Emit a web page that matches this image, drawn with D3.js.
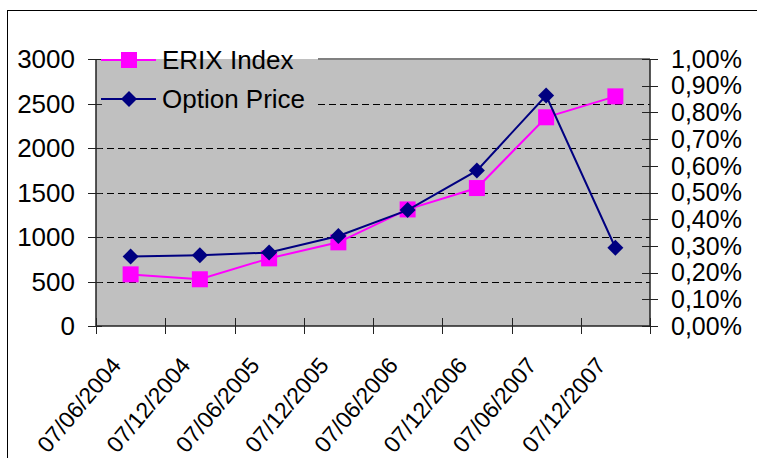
<!DOCTYPE html>
<html><head><meta charset="utf-8">
<script src="https://cdn.jsdelivr.net/npm/d3@7"></script>
<style>body{margin:0;background:#fff}svg{display:block;font-family:"Liberation Sans",Arial,sans-serif}</style>
</head><body><svg id="c" width="757" height="458"></svg>
<script>
const categories = ["07/06/2004","07/12/2004","07/06/2005","07/12/2005","07/06/2006","07/12/2006","07/06/2007","07/12/2007"];
const erixIndex = [580, 525, 760, 940, 1310, 1550, 2345, 2580];
const optionPrice = [0.26, 0.265, 0.275, 0.337, 0.434, 0.582, 0.863, 0.293]; // percent
const leftTicks = [0, 500, 1000, 1500, 2000, 2500, 3000];
const rightTicks = [0,0.1,0.2,0.3,0.4,0.5,0.6,0.7,0.8,0.9,1.0];

const svg = d3.select("#c");
const L = 96, R = 650, T = 59, B = 326;
const FS = 26, FSR = 25, FSX = 23;

svg.append("rect").attr("x",7.5).attr("y",10.5).attr("width",900).attr("height",600)
  .attr("fill","#fff").attr("stroke","#000").attr("stroke-width",1);

const x = d3.scaleBand().domain(categories).range([L, R]);
const yL = d3.scaleLinear().domain([0,3000]).range([B, T]);
const yR = d3.scaleLinear().domain([0,1]).range([B, T]);

// plot area
svg.append("rect").attr("x",L).attr("y",T).attr("width",R-L).attr("height",B-T).attr("fill","#c0c0c0");

// gridlines
const legendRight = 318, legendBottom = 118;
svg.append("g").selectAll("line").data(leftTicks.filter(d=>d>0 && d<3000)).join("line")
  .attr("x1", d => yL(d) < legendBottom ? legendRight : L)
  .attr("x2", R)
  .attr("y1", d => Math.round(yL(d))+0.5).attr("y2", d => Math.round(yL(d))+0.5)
  .attr("stroke","#000").attr("stroke-width",1).attr("stroke-dasharray","7,4");
// top border
svg.append("line").attr("x1",legendRight).attr("x2",R).attr("y1",T).attr("y2",T)
  .attr("stroke","#808080").attr("stroke-width",2);

// left axis
const gL = svg.append("g");
gL.append("line").attr("x1",L).attr("x2",L).attr("y1",T).attr("y2",B).attr("stroke","#222").attr("stroke-width",1.5);
gL.selectAll("line.t").data(leftTicks).join("line").attr("class","t")
  .attr("x1",L-8).attr("x2",L+6).attr("y1",d=>Math.round(yL(d))+0.5).attr("y2",d=>Math.round(yL(d))+0.5)
  .attr("stroke","#222").attr("stroke-width",1);
gL.selectAll("text").data(leftTicks).join("text")
  .attr("x",75).attr("y",d=>yL(d)).attr("dy","0.35em").attr("text-anchor","end")
  .attr("font-size",FS).attr("fill","#000").text(d=>d);

// right axis
const gR = svg.append("g");
gR.append("line").attr("x1",R).attr("x2",R).attr("y1",T).attr("y2",B).attr("stroke","#222").attr("stroke-width",1.5);
gR.selectAll("line.t").data(rightTicks).join("line").attr("class","t")
  .attr("x1",R-8).attr("x2",R+8).attr("y1",d=>Math.round(yR(d))+0.5).attr("y2",d=>Math.round(yR(d))+0.5)
  .attr("stroke","#222").attr("stroke-width",1);
gR.selectAll("text").data(rightTicks).join("text")
  .attr("x",671).attr("y",d=>yR(d)).attr("dy","0.35em").attr("text-anchor","start")
  .attr("font-size",FSR).attr("fill","#000").text(d=>d.toFixed(2).replace(".",",")+"%");

// x axis
const gX = svg.append("g");
gX.append("line").attr("x1",L).attr("x2",R).attr("y1",B).attr("y2",B).attr("stroke","#222").attr("stroke-width",1.5);
const bounds = categories.map(c=>x(c)).concat([R]);
gX.selectAll("line.t").data(bounds).join("line").attr("class","t")
  .attr("x1",d=>Math.round(d)+0.5).attr("x2",d=>Math.round(d)+0.5).attr("y1",B-8).attr("y2",B+8)
  .attr("stroke","#222").attr("stroke-width",1);
gX.selectAll("text").data(categories).join("text")
  .attr("text-anchor","end").attr("font-size",FSX).attr("fill","#000")
  .attr("transform",d=>`translate(${x(d)+x.bandwidth()/2-8.5},${366}) rotate(-50)`)
  .text(d=>d);

const cx = d => x(d) + x.bandwidth()/2;

// ERIX series
const erixData = categories.map((c,i)=>({c,v:erixIndex[i]}));
svg.append("path").datum(erixData)
  .attr("d", d3.line().x(d=>cx(d.c)).y(d=>yL(d.v)))
  .attr("fill","none").attr("stroke","#ff00ff").attr("stroke-width",2);
svg.append("g").selectAll("rect").data(erixData).join("rect")
  .attr("x",d=>cx(d.c)-8).attr("y",d=>yL(d.v)-8).attr("width",16).attr("height",16).attr("fill","#ff00ff");

// Option series
const optData = categories.map((c,i)=>({c,v:optionPrice[i]}));
svg.append("path").datum(optData)
  .attr("d", d3.line().x(d=>cx(d.c)).y(d=>yR(d.v)))
  .attr("fill","none").attr("stroke","#000080").attr("stroke-width",2);
svg.append("g").selectAll("path").data(optData).join("path")
  .attr("d", "M0,-8L8,0L0,8L-8,0Z")
  .attr("transform",d=>`translate(${cx(d.c)},${yR(d.v)})`).attr("fill","#000080");

// legend
const lg = svg.append("g");
const items = [{name:"ERIX Index", color:"#ff00ff", y:60, sym:"sq"},{name:"Option Price", color:"#000080", y:99, sym:"di"}];
items.forEach(it=>{
  lg.append("line").attr("x1",101).attr("x2",156).attr("y1",it.y).attr("y2",it.y).attr("stroke",it.color).attr("stroke-width",2);
  if(it.sym==="sq") lg.append("rect").attr("x",121).attr("y",it.y-8).attr("width",16).attr("height",16).attr("fill",it.color);
  else lg.append("path").attr("d","M0,-8L8,0L0,8L-8,0Z").attr("transform",`translate(129,${it.y})`).attr("fill",it.color);
  lg.append("text").attr("x",162).attr("y",it.y).attr("dy","0.35em").attr("font-size",FS).attr("fill","#000").text(it.name);
});
</script></body></html>
